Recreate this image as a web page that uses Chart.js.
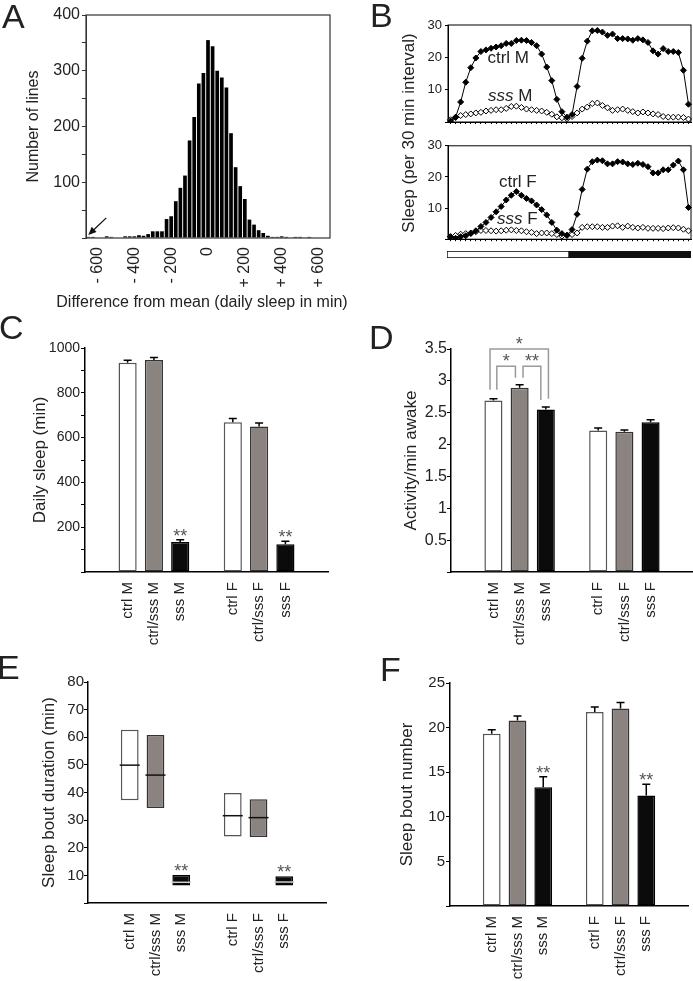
<!DOCTYPE html>
<html>
<head>
<meta charset="utf-8">
<script src="https://cdn.jsdelivr.net/npm/chart.js"></script>
<style>
  body { margin: 0; background: #fff; }
  #fig { position: relative; width: 693px; height: 981px; overflow: hidden; background: #fff;
         font-family: "Liberation Sans", Arial, Helvetica, sans-serif; color: #222; }
  #fig canvas { position: absolute; }
  .letter { position: absolute; font-size: 34px; line-height: 34px; }
  .note { position: absolute; white-space: nowrap; transform: translate(-50%, -50%); font-size: 16px; line-height: 1; }
  .vt { transform: translate(-50%, -50%) rotate(-90deg); font-size: 17px; }
</style>
</head>
<body>
<div id="fig">
  <canvas id="chartA" width="370" height="312" style="left:0;top:0"></canvas>
  <canvas id="chartB1" width="313" height="135" style="left:380px;top:0"></canvas>
  <canvas id="chartB2" width="313" height="115" style="left:380px;top:135px"></canvas>
  <canvas id="chartLD" width="244" height="7" style="left:447px;top:251px"></canvas>
  <canvas id="chartC" width="345" height="345" style="left:0;top:305px"></canvas>
  <canvas id="chartD" width="338" height="345" style="left:355px;top:305px"></canvas>
  <canvas id="chartE" width="345" height="331" style="left:0;top:650px"></canvas>
  <canvas id="chartF" width="338" height="331" style="left:355px;top:650px"></canvas>

  <div class="letter" style="left:2px;top:-1px">A</div>
  <div class="letter" style="left:370px;top:-2px">B</div>
  <div class="letter" style="left:-1px;top:310px">C</div>
  <div class="letter" style="left:369px;top:320px">D</div>
  <div class="letter" style="left:-3px;top:650px">E</div>
  <div class="letter" style="left:380px;top:652px">F</div>

  <div class="note" style="left:202px;top:302px">Difference from mean (daily sleep in min)</div>
  <div class="note vt" style="left:408px;top:133px">Sleep (per 30 min interval)</div>
</div>

<script>
// ---- data ----
// A: histogram, 25 min bins
const binCentres = [-650, -625, -600, -575, -550, -525, -500, -475, -450, -425, -400, -375, -350, -325,
  -300, -275, -250, -225, -200, -175, -150, -125, -100, -75, -50, -25, 0, 25, 50, 75, 100, 125, 150,
  175, 200, 225, 250, 275, 300, 325, 350, 375, 400, 425, 450, 475, 500, 525, 550, 575, 600, 625, 650];
const lineCounts = [2, 2, 0, 0, 3, 2, 0, 0, 3, 3, 3, 5, 4, 7, 12, 12, 12, 34, 39, 66, 90, 112, 175, 217,
  277, 296, 355, 344, 300, 288, 270, 188, 127, 93, 70, 33, 24, 14, 9, 4, 2, 2, 3, 2, 0, 2, 2, 0, 2, 0, 0, 0, 0];
const labelledBins = [-600, -400, -200, 0, 200, 400, 600];

// B: sleep per 30 min interval
const halfHours = ['0:00', '0:30', '1:00', '1:30', '2:00', '2:30', '3:00', '3:30', '4:00', '4:30', '5:00', '5:30',
  '6:00', '6:30', '7:00', '7:30', '8:00', '8:30', '9:00', '9:30', '10:00', '10:30', '11:00', '11:30',
  '12:00', '12:30', '13:00', '13:30', '14:00', '14:30', '15:00', '15:30', '16:00', '16:30', '17:00', '17:30',
  '18:00', '18:30', '19:00', '19:30', '20:00', '20:30', '21:00', '21:30', '22:00', '22:30', '23:00', '23:30'];
const ctrlM = [0.3, 1.5, 6.2, 12.3, 16.8, 19.8, 21.8, 22.3, 22.8, 23.2, 23.6, 24.3, 24.3, 25.2, 25.3, 25.2,
  24.6, 23.6, 21, 17, 12.8, 7, 3.2, 1.5, 2.3, 11, 19.7, 25, 28.2, 28.3, 27.8, 26.8, 27.2, 25.8, 25.8, 25.7,
  25.3, 25.8, 25.4, 24.6, 22, 21, 22.7, 21.8, 21.8, 21.5, 16, 5.5];
const sssM = [0.7, 1.4, 2, 2.3, 2.5, 2.8, 3, 3.4, 3.6, 3.8, 3.8, 4.2, 4.8, 4.9, 4.5, 4, 3.8, 3.6, 3.4, 3,
  2.4, 1.6, 1.3, 1.0, 1.7, 2.8, 4, 4.6, 5.7, 5.9, 5.1, 4.4, 3.6, 3.8, 4, 3.6, 3.2, 2.8, 3.1, 2.8, 2.5, 2.3,
  1.7, 1.5, 1.5, 1.5, 1.4, 0.9];
const ctrlF = [0.8, 0.3, 0.8, 1.1, 1.8, 2.7, 4.1, 5.4, 7, 8.8, 10.5, 12.6, 14.1, 15.3, 14.1, 13.1, 12.3, 11,
  9.5, 7.8, 5.4, 2.9, 1.8, 1.3, 3.1, 8, 16, 22.5, 24.9, 25.4, 25.2, 24.2, 24.2, 24.9, 24.8, 24.2, 24, 24.4,
  24, 23.3, 21.3, 21.3, 22.3, 22.3, 23.8, 25.1, 22.3, 10.2];
const sssF = [0.8, 1.2, 1.6, 1.8, 2, 2.4, 2.8, 2.8, 2.7, 2.6, 2.7, 2.9, 3, 2.8, 2.7, 2.4, 2.2, 1.8, 2, 2,
  1.8, 1.5, 1, 1.2, 1.5, 2, 3.8, 4, 4, 4, 3.8, 3.8, 4.2, 4.3, 3.8, 4.2, 3.8, 3.6, 3.8, 3.5, 3.5, 3.5, 3.4,
  3.6, 3.7, 3.6, 3.2, 2.7];
const lightHours = [12];
const darkHours = [12];

// C-F: genotype groups ('' is the gap between sexes)
const groups = ['ctrl M', 'ctrl/sss M', 'sss M', '', 'ctrl F', 'ctrl/sss F', 'sss F'];
const dailySleep = [934, 946, 134, null, 668, 650, 124];
const dailySleepErr = [11, 12, 10, null, 17, 15, 13];
const activity = [2.69, 2.89, 2.55, null, 2.22, 2.20, 2.35];
const activityErr = [0.03, 0.05, 0.04, null, 0.04, 0.03, 0.04];
const boutLow = [37.2, 34.4, 6.3, null, 24.1, 23.9, 6.3];
const boutHigh = [62.7, 60.8, 10.1, null, 39.8, 37.6, 9.7];
const boutMedian = [49.9, 46.3, 7.5, null, 31.6, 30.9, 7.6];
const boutNumber = [19.3, 20.8, 13.3, null, 21.75, 22.15, 12.4];
const boutNumberErr = [0.45, 0.5, 1.2, null, 0.55, 0.65, 1.25];
const sigSss = ['', '', '**', '', '', '', '**'];

// ---- styling ----
const FONT = '"Liberation Sans", Arial, Helvetica, sans-serif';
Chart.defaults.font.family = FONT;
Chart.defaults.color = '#222';
Chart.defaults.animation = false;
Chart.defaults.plugins.legend.display = false;
Chart.defaults.plugins.tooltip.enabled = false;

const fills = ['#ffffff', '#8a8380', '#0b0b0b', null, '#ffffff', '#8a8380', '#0b0b0b'];
const edges = ['#555555', '#333333', '#000000', null, '#555555', '#333333', '#000000'];
const medianColours = ['#111', '#111', '#cfcfcf', null, '#111', '#111', '#cfcfcf'];

// frame round the plot area (panels A and B)
const framePlugin = {
  id: 'frame',
  afterDraw(chart, args, opts) {
    const a = chart.chartArea, ctx = chart.ctx;
    ctx.save();
    ctx.strokeStyle = opts.color || '#000';
    ctx.lineWidth = opts.width || 1;
    ctx.strokeRect(a.left, a.top, a.right - a.left, a.bottom - a.top);
    ctx.restore();
  }
};

// error bars + significance stars
const marksPlugin = {
  id: 'marks',
  afterDatasetsDraw(chart) {
    const ctx = chart.ctx, y = chart.scales.y;
    chart.data.datasets.forEach((ds, di) => {
      if (!ds.errors && !ds.stars) return;
      const meta = chart.getDatasetMeta(di);
      meta.data.forEach((bar, i) => {
        const raw = ds.data[i].y;
        if (raw == null) return;
        let top = Array.isArray(raw) ? Math.max(raw[0], raw[1]) : raw;
        ctx.save();
        if (ds.errors && ds.errors[i] != null) {
          const y0 = y.getPixelForValue(top), y1 = y.getPixelForValue(top + ds.errors[i]);
          ctx.strokeStyle = '#000';
          ctx.lineWidth = 1.5;
          ctx.beginPath();
          ctx.moveTo(bar.x, y0); ctx.lineTo(bar.x, y1);
          ctx.moveTo(bar.x - 4, y1); ctx.lineTo(bar.x + 4, y1);
          ctx.stroke();
          top += ds.errors[i];
        }
        if (ds.stars && ds.stars[i]) {
          ctx.fillStyle = '#555';
          ctx.font = '18px ' + FONT;
          ctx.textAlign = 'center';
          ctx.textBaseline = 'alphabetic';
          ctx.fillText(ds.stars[i], bar.x, y.getPixelForValue(top) + 2);
        }
        ctx.restore();
      });
    });
  }
};

// comparison brackets (panel D)
const bracketPlugin = {
  id: 'brackets',
  afterDatasetsDraw(chart, args, opts) {
    const ctx = chart.ctx, x = chart.scales.x, y = chart.scales.y;
    ctx.save();
    ctx.strokeStyle = '#9a9a9a';
    ctx.lineWidth = 1.5;
    ctx.fillStyle = '#555';
    ctx.font = '18px ' + FONT;
    ctx.textAlign = 'center';
    (opts.list || []).forEach(b => {
      const x1 = x.getPixelForValue(b.x1), x2 = x.getPixelForValue(b.x2), yt = y.getPixelForValue(b.top);
      ctx.beginPath();
      ctx.moveTo(x1, y.getPixelForValue(b.leftEnd));
      ctx.lineTo(x1, yt);
      ctx.lineTo(x2, yt);
      ctx.lineTo(x2, y.getPixelForValue(b.rightEnd));
      ctx.stroke();
      ctx.fillText(b.text, (x1 + x2) / 2, yt + 1);
    });
    ctx.restore();
  }
};

// curve names inside panel B
const curveLabelPlugin = {
  id: 'curveLabels',
  afterDatasetsDraw(chart, args, opts) {
    const ctx = chart.ctx, x = chart.scales.x, y = chart.scales.y;
    (opts.items || []).forEach(item => {
      ctx.save();
      ctx.fillStyle = '#222';
      ctx.textBaseline = 'middle';
      ctx.textAlign = 'left';
      const fonts = item.parts.map(p => (p[1] ? 'italic ' : '') + '17px ' + FONT);
      let total = 0;
      const widths = item.parts.map((p, k) => {
        ctx.font = fonts[k];
        const w = ctx.measureText(p[0]).width;
        total += w;
        return w;
      });
      let px = x.getPixelForValue(item.x) - total / 2;
      const py = y.getPixelForValue(item.y);
      item.parts.forEach((p, k) => {
        ctx.font = fonts[k];
        ctx.fillText(p[0], px, py);
        px += widths[k];
      });
      ctx.restore();
    });
  }
};

// arrow pointing at the outlier bin in A
const arrowPlugin = {
  id: 'arrow',
  afterDatasetsDraw(chart, args, opts) {
    const ctx = chart.ctx;
    const tx = chart.scales.x.getPixelForValue(opts.bin);
    const ty = chart.scales.y.getPixelForValue(lineCounts[opts.bin]) - 2;
    const sx = tx + opts.dx, sy = ty + opts.dy;
    const ang = Math.atan2(ty - sy, tx - sx);
    ctx.save();
    ctx.strokeStyle = '#111';
    ctx.fillStyle = '#111';
    ctx.lineWidth = 1.3;
    ctx.beginPath();
    ctx.moveTo(sx, sy);
    ctx.lineTo(tx - 5 * Math.cos(ang), ty - 5 * Math.sin(ang));
    ctx.stroke();
    ctx.beginPath();
    ctx.moveTo(tx, ty);
    ctx.lineTo(tx - 8 * Math.cos(ang) + 3.5 * Math.sin(ang), ty - 8 * Math.sin(ang) - 3.5 * Math.cos(ang));
    ctx.lineTo(tx - 8 * Math.cos(ang) - 3.5 * Math.sin(ang), ty - 8 * Math.sin(ang) + 3.5 * Math.cos(ang));
    ctx.closePath();
    ctx.fill();
    ctx.restore();
  }
};

// ---- A ----
function binLabel(v) {
  if (!labelledBins.includes(v)) return '';
  if (v === 0) return '0';
  return (v < 0 ? '- ' : '+ ') + Math.abs(v);
}

new Chart(document.getElementById('chartA'), {
  type: 'bar',
  data: {
    labels: binCentres,
    datasets: [{ data: lineCounts, backgroundColor: '#000', barPercentage: 0.8, categoryPercentage: 1 }]
  },
  options: {
    responsive: false,
    layout: { padding: { top: 15, left: 0, right: 40, bottom: 0 }, autoPadding: false },
    scales: {
      x: {
        grid: { drawOnChartArea: false, drawTicks: false },
        border: { display: false },
        ticks: { autoSkip: false, minRotation: 90, maxRotation: 90, padding: 9, font: { size: 16 },
          callback: (v, i) => binLabel(binCentres[i]) },
        afterFit: s => { s.height = 74; }
      },
      y: {
        min: 0, max: 400,
        ticks: { stepSize: 50, padding: 2, font: { size: 16 }, callback: v => (v > 0 && v % 100 === 0) ? v : '' },
        grid: { drawOnChartArea: false, tickLength: 4, color: '#333' },
        border: { color: '#333' },
        title: { display: true, text: 'Number of lines', font: { size: 16 }, padding: { top: 24, bottom: 0 } },
        afterFit: s => { s.width = 86; }
      }
    },
    plugins: { frame: { color: '#333', width: 1.2 }, arrow: { bin: 0, dx: 18, dy: -17 } }
  },
  plugins: [framePlugin, arrowPlugin]
});

// ---- B ----
function sleepProfile(id, ctrl, sss, padTop, xHeight, names) {
  return new Chart(document.getElementById(id), {
    type: 'line',
    data: {
      labels: halfHours,
      datasets: [
        { data: ctrl, borderColor: '#000', borderWidth: 1, pointStyle: 'rectRot', pointRadius: 3,
          pointBackgroundColor: '#000', pointBorderColor: '#000', pointBorderWidth: 1, tension: 0 },
        { data: sss, borderColor: '#000', borderWidth: 1, pointStyle: 'rectRot', pointRadius: 3,
          pointBackgroundColor: '#fff', pointBorderColor: '#000', pointBorderWidth: 1, tension: 0 }
      ]
    },
    options: {
      responsive: false,
      layout: { padding: { top: padTop, left: 0, right: 2, bottom: 0 }, autoPadding: false },
      scales: {
        x: {
          offset: true,
          grid: { drawOnChartArea: false, tickLength: 2, color: '#000' },
          border: { color: '#000' },
          ticks: { display: false },
          afterFit: s => { s.height = xHeight; }
        },
        y: {
          min: 0, max: 30,
          ticks: { stepSize: 5, padding: 3, font: { size: 13 }, callback: v => (v > 0 && v % 10 === 0) ? v : '' },
          grid: { drawOnChartArea: false, tickLength: 3, color: '#000' },
          border: { color: '#000' },
          afterFit: s => { s.width = 68; }
        }
      },
      plugins: { frame: { color: '#000', width: 1 }, curveLabels: { items: names } }
    },
    plugins: [framePlugin, curveLabelPlugin]
  });
}

sleepProfile('chartB1', ctrlM, sssM, 25, 13, [
  { parts: [['ctrl M', false]], x: 11.4, y: 19.6 },
  { parts: [['sss', true], [' M', false]], x: 11.8, y: 7.9 }
]);
sleepProfile('chartB2', ctrlF, sssF, 10, 7, [
  { parts: [['ctrl F', false]], x: 13.3, y: 18.4 },
  { parts: [['sss', true], [' F', false]], x: 13.2, y: 6.4 }
]);

// light / dark bar
new Chart(document.getElementById('chartLD'), {
  type: 'bar',
  data: {
    labels: [''],
    datasets: [
      { data: lightHours, backgroundColor: '#fff', borderColor: '#000', borderWidth: 1, borderSkipped: false,
        barPercentage: 1, categoryPercentage: 1 },
      { data: darkHours, backgroundColor: '#111', borderWidth: 0, barPercentage: 1, categoryPercentage: 1 }
    ]
  },
  options: {
    indexAxis: 'y',
    responsive: false,
    layout: { padding: 0, autoPadding: false },
    scales: {
      x: { stacked: true, min: 0, max: 24, display: false },
      y: { stacked: true, display: false }
    }
  }
});

// ---- C-F ----
function groupChart(id, cfg) {
  return new Chart(document.getElementById(id), {
    type: 'bar',
    data: { datasets: cfg.datasets },
    options: {
      responsive: false,
      layout: { padding: cfg.padding, autoPadding: false },
      scales: {
        x: {
          type: 'linear', min: -0.85, max: 6.85,
          grid: { drawOnChartArea: false, drawTicks: false },
          border: { color: '#000', width: 1.5 },
          afterBuildTicks: s => { s.ticks = groups.map((g, i) => ({ value: i })).filter(t => groups[t.value] !== ''); },
          ticks: { autoSkip: false, minRotation: 90, maxRotation: 90, padding: 10, font: { size: 15 },
            callback: v => groups[v] },
          afterFit: s => { s.height = cfg.xHeight; }
        },
        y: {
          min: 0, max: cfg.max,
          ticks: { stepSize: cfg.step, padding: cfg.tickPad, font: { size: cfg.tickSize }, callback: cfg.tickLabel },
          grid: { drawOnChartArea: false, tickLength: 4, color: '#000' },
          border: { color: '#000', width: 1.5 },
          title: { display: true, text: cfg.title, font: { size: 17 }, padding: { top: cfg.titlePad, bottom: 0 } },
          afterFit: s => { s.width = cfg.yWidth; }
        }
      },
      plugins: { brackets: { list: cfg.brackets || [] } }
    },
    plugins: [marksPlugin, bracketPlugin]
  });
}

function barSet(values, errors, stars) {
  return {
    data: values.map((v, i) => ({ x: i, y: v })),
    errors: errors, stars: stars,
    backgroundColor: fills, borderColor: edges, borderWidth: 1.5, borderSkipped: false,
    barPercentage: 0.69, categoryPercentage: 1, order: 1
  };
}

groupChart('chartC', {
  datasets: [barSet(dailySleep, dailySleepErr, sigSss)],
  padding: { top: 43, left: 0, right: 17, bottom: 0 },
  xHeight: 78, yWidth: 85, max: 1000, step: 100, tickPad: 1, tickSize: 14, titlePad: 30,
  tickLabel: v => (v > 0 && v % 200 === 0) ? v : '',
  title: 'Daily sleep (min)'
});

groupChart('chartD', {
  datasets: [barSet(activity, activityErr, null)],
  padding: { top: 44, left: 0, right: 0, bottom: 0 },
  xHeight: 78, yWidth: 96, max: 3.5, step: 0.5, tickPad: 0, tickSize: 16, titlePad: 46,
  tickLabel: v => v > 0 ? String(+v.toFixed(1)) : '',
  title: 'Activity/min awake',
  brackets: [
    { x1: -0.13, x2: 2.1, top: 3.5, leftEnd: 2.86, rightEnd: 2.72, text: '*' },
    { x1: 0.13, x2: 0.84, top: 3.23, leftEnd: 2.86, rightEnd: 3.05, text: '*' },
    { x1: 1.13, x2: 1.81, top: 3.23, leftEnd: 3.05, rightEnd: 2.70, text: '**' }
  ]
});

groupChart('chartE', {
  datasets: [
    { type: 'line', data: boutMedian.map((v, i) => ({ x: i, y: v })), showLine: false,
      pointStyle: 'line', pointRadius: 10, pointBorderWidth: 1.5, pointBorderColor: medianColours, order: 0 },
    Object.assign(barSet(boutLow.map((lo, i) => lo == null ? null : [lo, boutHigh[i]]), null, sigSss))
  ],
  padding: { top: 32, left: 0, right: 19, bottom: 0 },
  xHeight: 78, yWidth: 88, max: 80, step: 10, tickPad: 0, tickSize: 15, titlePad: 39,
  tickLabel: v => v > 0 ? v : '',
  title: 'Sleep bout duration (min)'
});

groupChart('chartF', {
  datasets: [barSet(boutNumber, boutNumberErr, sigSss)],
  padding: { top: 33, left: 0, right: 5, bottom: 0 },
  xHeight: 75, yWidth: 95, max: 25, step: 5, tickPad: 1, tickSize: 15, titlePad: 42,
  tickLabel: v => v > 0 ? v : '',
  title: 'Sleep bout number'
});
</script>
</body>
</html>
